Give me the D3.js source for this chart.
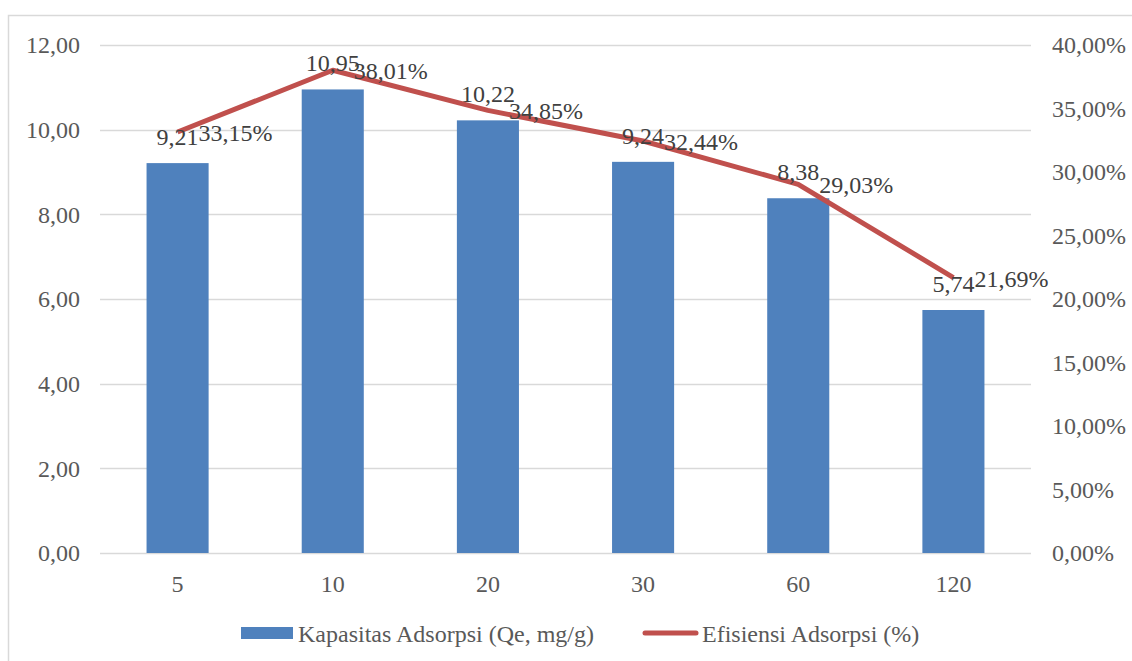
<!DOCTYPE html>
<html>
<head>
<meta charset="utf-8">
<script src="https://cdn.jsdelivr.net/npm/d3@7/dist/d3.min.js"></script>
<style>
  html, body { margin: 0; padding: 0; background: #ffffff; }
  svg { display: block; }
</style>
</head>
<body>
<svg id="chart" width="1132" height="661"></svg>
<script>
// Contact time (minutes)
const categories = ["5", "10", "20", "30", "60", "120"];
// Adsorption capacity (Qe, mg/g)
const capacity = [9.21, 10.95, 10.22, 9.24, 8.38, 5.74];
// Adsorption efficiency (fraction)
const efficiency = [0.3315, 0.3801, 0.3485, 0.3244, 0.2903, 0.2169];
const leftTicks = [0, 2, 4, 6, 8, 10, 12];
const rightTicks = [0, 0.05, 0.10, 0.15, 0.20, 0.25, 0.30, 0.35, 0.40];
const seriesNames = ["Kapasitas Adsorpsi (Qe, mg/g)", "Efisiensi Adsorpsi (%)"];

const barColor = "#4F81BD";
const lineColor = "#C0504D";
const gridColor = "#D9D9D9";
const axisText = "#595959";
const labelText = "#404040";
const fontFamily = '"Liberation Serif", "Times New Roman", Times, serif';
const fontSize = "24px";

const svg = d3.select("#chart");

// Outer chart frame
svg.append("rect")
  .attr("x", 8.5).attr("y", 15.5)
  .attr("width", 1140).attr("height", 660)
  .attr("fill", "none").attr("stroke", gridColor).attr("stroke-width", 1.5);

const plot = { left: 100, right: 1031, top: 45, bottom: 553 };

const x = d3.scaleBand()
  .domain(categories)
  .range([plot.left, plot.right])
  .paddingInner(0.6)
  .paddingOuter(0.3);

const yL = d3.scaleLinear().domain([0, 12]).range([plot.bottom, plot.top]);
const yR = d3.scaleLinear().domain([0, 0.40]).range([plot.bottom, plot.top]);

const fmtNum = v => v.toFixed(2).replace(".", ",");
const fmtPct = v => (v * 100).toFixed(2).replace(".", ",") + "%";

const styleText = (sel, color) => sel
  .style("font-family", fontFamily)
  .style("font-size", fontSize)
  .attr("fill", color);

// Horizontal gridlines
svg.append("g")
  .selectAll("line")
  .data(leftTicks)
  .join("line")
  .attr("x1", plot.left).attr("x2", plot.right)
  .attr("y1", d => Math.round(yL(d)) + 0.5)
  .attr("y2", d => Math.round(yL(d)) + 0.5)
  .attr("stroke", gridColor)
  .attr("stroke-width", 1.5);

// Left axis
const leftAxis = d3.axisLeft(yL).tickValues(leftTicks).tickFormat(fmtNum).tickSize(0).tickPadding(20);
const gL = svg.append("g").attr("transform", `translate(${plot.left},0)`).call(leftAxis);
gL.select(".domain").remove();
styleText(gL.selectAll("text"), axisText);

// Right axis
const rightAxis = d3.axisRight(yR).tickValues(rightTicks).tickFormat(fmtPct).tickSize(0).tickPadding(21);
const gR = svg.append("g").attr("transform", `translate(${plot.right},0)`).call(rightAxis);
gR.select(".domain").remove();
styleText(gR.selectAll("text"), axisText);

// Bottom axis
const bottomAxis = d3.axisBottom(x).tickSize(0).tickPadding(22);
const gB = svg.append("g").attr("transform", `translate(0,${plot.bottom})`).call(bottomAxis);
gB.select(".domain").remove();
styleText(gB.selectAll("text"), axisText);

// Bars
svg.append("g")
  .selectAll("rect")
  .data(capacity)
  .join("rect")
  .attr("x", (d, i) => x(categories[i]))
  .attr("width", x.bandwidth())
  .attr("y", d => yL(d))
  .attr("height", d => yL(0) - yL(d))
  .attr("fill", barColor);

// Efficiency line
const cx = i => x(categories[i]) + x.bandwidth() / 2;
const line = d3.line()
  .x((d, i) => cx(i))
  .y(d => yR(d));
svg.append("path")
  .datum(efficiency)
  .attr("d", line)
  .attr("fill", "none")
  .attr("stroke", lineColor)
  .attr("stroke-width", 5)
  .attr("stroke-linejoin", "round");

// Bar value labels
styleText(svg.append("g")
  .selectAll("text")
  .data(capacity)
  .join("text")
  .attr("x", (d, i) => cx(i))
  .attr("y", d => yL(d) - 18)
  .attr("text-anchor", "middle")
  .text(fmtNum), labelText);

// Line value labels
styleText(svg.append("g")
  .selectAll("text")
  .data(efficiency)
  .join("text")
  .attr("x", (d, i) => cx(i) + 21)
  .attr("y", d => yR(d) + 9)
  .text(fmtPct), labelText);

// Legend
const legend = svg.append("g");
legend.append("rect")
  .attr("x", 241).attr("y", 627).attr("width", 52).attr("height", 12)
  .attr("fill", barColor);
styleText(legend.append("text")
  .attr("x", 298).attr("y", 642)
  .text(seriesNames[0]), axisText);
legend.append("line")
  .attr("x1", 645).attr("x2", 696).attr("y1", 633).attr("y2", 633)
  .attr("stroke", lineColor).attr("stroke-width", 5).attr("stroke-linecap", "round");
styleText(legend.append("text")
  .attr("x", 702).attr("y", 642)
  .text(seriesNames[1]), axisText);
</script>
</body>
</html>
